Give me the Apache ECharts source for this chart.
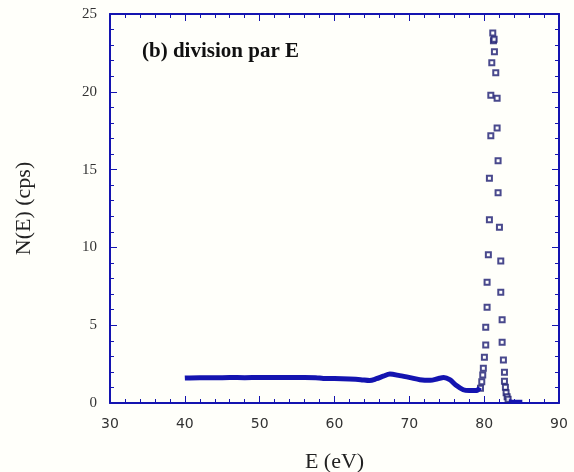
<!DOCTYPE html>
<html>
<head>
<meta charset="utf-8">
<title>N(E) division par E</title>
<script src="https://cdn.jsdelivr.net/npm/echarts@6/dist/echarts.min.js"></script>
<style>
  html,body{margin:0;padding:0;background:#fffffa;}
  #main{width:574px;height:472px;}
</style>
</head>
<body>
<div id="main"></div>
<script>
// fond (ligne épaisse) : E en eV, N(E) en cps
var fondE = [40, 42, 44, 46, 48, 50, 52, 54, 56, 57.5, 58.5, 60, 62, 63.5, 64.7, 65.6, 66.5, 67.4, 68.7, 70.1, 71.4, 72.8, 73.8, 74.6, 75.4, 76.3, 77.2, 78, 79, 79.4];
var fondN = [1.6, 1.63, 1.62, 1.64, 1.63, 1.64, 1.64, 1.64, 1.64, 1.63, 1.58, 1.57, 1.54, 1.5, 1.44, 1.56, 1.72, 1.86, 1.76, 1.63, 1.5, 1.46, 1.56, 1.64, 1.5, 1.12, 0.85, 0.8, 0.8, 1.0];

// pic (carrés)
var picE = [79.51, 79.68, 79.81, 79.89, 80.03, 80.21, 80.21, 80.39, 80.39, 80.56, 80.70, 80.70, 80.89, 80.89, 81.02, 81.24, 81.33, 81.15,
            81.37, 81.55, 81.73, 81.73, 81.86, 81.86, 82.04, 82.22, 82.22, 82.40, 82.40, 82.57, 82.71, 82.71, 82.84, 82.93, 83.07, 83.20];
var picN = [0.94, 1.37, 1.80, 2.23, 2.94, 3.73, 4.87, 6.15, 7.76, 9.53, 11.78, 14.44, 17.18, 19.78, 21.87, 23.28, 23.37, 23.78,
            22.58, 21.23, 19.58, 17.67, 15.57, 13.52, 11.29, 9.13, 7.11, 5.35, 3.90, 2.76, 1.97, 1.39, 1.01, 0.66, 0.40, 0.24];

// queue après le pic
var queueE = [83.3, 83.8, 84.3, 84.8, 85.1];
var queueN = [0.14, 0.12, 0.12, 0.11, 0.11];

var xTicks = [30, 40, 50, 60, 70, 80, 90];
var yTicks = [0, 5, 10, 15, 20, 25];

function pairs(a, b){
  var out = [];
  for (var i = 0; i < a.length; i++) out.push([a[i], b[i]]);
  return out;
}

var bleu = '#1414b0';
var axeBase = {
  axisLine: {show: true, onZero: false, lineStyle: {color: bleu, width: 2}},
  axisTick: {show: true, inside: true, length: 7, lineStyle: {color: bleu, width: 1}},
  minorTick: {show: true, splitNumber: 5, length: 4, lineStyle: {color: bleu, width: 1}},
  splitLine: {show: false}
};
function axe(extra){
  var a = JSON.parse(JSON.stringify(axeBase));
  for (var k in extra) a[k] = extra[k];
  return a;
}

var myChart = echarts.init(document.getElementById('main'));
var option = {
  backgroundColor: '#fffffa',
  animation: false,
  grid: {left: 110, right: 15, top: 14, bottom: 69, outerBoundsMode: 'none', containLabel: false},
  xAxis: [
    axe({type: 'value', position: 'bottom', min: xTicks[0], max: xTicks[xTicks.length-1], interval: 10,
      name: 'E (eV)', nameLocation: 'middle', nameGap: 48,
      nameTextStyle: {fontFamily: 'Liberation Serif', fontSize: 22, color: '#222'},
      axisLabel: {fontFamily: 'DejaVu Sans', fontSize: 14, color: '#333', margin: 14}}),
    axe({type: 'value', position: 'top', min: xTicks[0], max: xTicks[xTicks.length-1], interval: 10,
      axisLabel: {show: false}})
  ],
  yAxis: [
    axe({type: 'value', position: 'left', min: yTicks[0], max: yTicks[yTicks.length-1], interval: 5,
      name: 'N(E) (cps)', nameLocation: 'middle', nameGap: 75, nameRotate: 90,
      nameTextStyle: {fontFamily: 'Liberation Serif', fontSize: 22, color: '#222'},
      axisLabel: {fontFamily: 'Liberation Serif', fontSize: 15, color: '#333', margin: 13}}),
    axe({type: 'value', position: 'right', min: yTicks[0], max: yTicks[yTicks.length-1], interval: 5,
      axisLabel: {show: false}})
  ],
  graphic: [{
    type: 'text', left: 142, top: 41,
    style: {text: '(b) division par E', font: 'bold 21px "Liberation Serif"', fill: '#111'}
  }],
  series: [
    {
      type: 'line', data: pairs(fondE, fondN), showSymbol: false, smooth: 0.3,
      lineStyle: {color: bleu, width: 5}
    },
    {
      type: 'line', data: pairs(queueE, queueN), showSymbol: false,
      lineStyle: {color: bleu, width: 3}
    },
    {
      type: 'scatter', data: pairs(picE, picN), symbol: 'emptyRect', symbolSize: 5,
      itemStyle: {color: '#1c1c70', borderWidth: 1.5}
    }
  ]
};
myChart.setOption(option);
</script>
</body>
</html>
